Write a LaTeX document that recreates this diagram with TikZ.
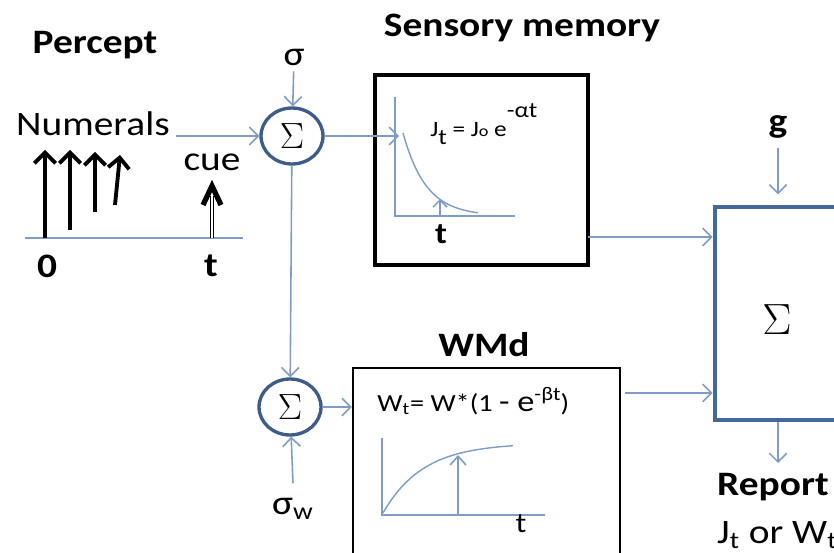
\documentclass[tikz,border=0pt]{standalone}
\usepackage{fontspec}
\setmainfont{Carlito}[FakeStretch=1.15]
\usetikzlibrary{arrows.meta, positioning, calc, shapes.geometric}

\definecolor{wireblue}{HTML}{7E9CC6}
\definecolor{ringblue}{HTML}{3D5C88}
\definecolor{frameblue}{HTML}{44689A}

\tikzset{
  wire/.style={draw=wireblue, line width=0.9pt, -{Straight Barb[length=5pt,width=10pt]}},
  axisline/.style={draw=wireblue, line width=0.8pt},
  summer/.style={ellipse, draw=ringblue, line width=1.9pt, minimum width=1.24cm, minimum height=1.12cm, inner sep=0pt, font=\fontsize{22}{24}\selectfont},
  heading/.style={font=\fontsize{19.5}{22}\selectfont\bfseries},
  bigtext/.style={font=\fontsize{19.5}{22}\selectfont},
  stim/.style={line width=2.2pt, -{Straight Barb[length=6pt,width=12pt]}}
}

\begin{document}
\begin{tikzpicture}[x=0.02cm, y=-0.02cm]
\useasboundingbox (0,0) rectangle (834,553);
\clip (0,0) rectangle (834,553);

% percept
\node[heading] (percept) at (95,45) {Percept};
\node[bigtext, anchor=west] (numerals) at (10,124) {Numerals};
\draw[axisline] (25,238) -- (243,238);
\foreach \xa/\ya/\xb/\yb in {45/238/45/150, 70/230/70/150, 95/212/95/152, 115/205/120/155}
  \draw[stim] (\xa,\ya) -- (\xb,\yb);
\node[bigtext] (cue) at (212,162) {cue};
\draw[double, double distance=1.4pt, line width=0.5pt] (212,238) -- (212,196);
\draw[line width=3pt, line join=miter] (203,205) -- (212,186) -- (221,205);
\node[heading] (zero) at (47,266) {0};
\node[heading] (tcue) at (211,266) {t};

% first sum
\node[summer] (sum1) at (292,136) {$\Sigma$};
\node[bigtext] (sigma) at (294,57) {σ};
\draw[wire] (sigma) -- (sum1);
\draw[wire] (numerals.east |- sum1) -- (sum1);

% sensory memory
\node[heading] (sensehead) at (522,28) {Sensory memory};
\node[draw, line width=2.3pt, minimum width=4.26cm, minimum height=3.8cm] (sensory) at (481.5,170) {};
\coordinate (senseIn) at (399,136);
\draw[wire] (sum1) -- (senseIn);
\draw[axisline] (395,97) -- (395,216) -- (515,216);
\draw[axisline] plot[domain=0:75, samples=40, smooth] ({403+\x},{216-83*exp(-\x/23)});
\draw[wire, -{Straight Barb[length=4pt,width=8pt]}] (440,216) -- (440,199);
\node[font=\fontsize{17}{19}\selectfont\bfseries] (tsense) at (441,234) {t};
\node[anchor=base west, inner sep=0pt, font=\fontsize{12.5}{14}\selectfont] (jform) at (430,137)
  {J\raisebox{-4pt}{t} = J{\fontsize{9}{10}\selectfont o} e\raisebox{11pt}{-αt}};

% combination
\node[draw=frameblue, line width=2.3pt, minimum width=3.9cm, minimum height=4.26cm] (combine) at (812,313.5) {};
\node[font=\fontsize{28}{30}\selectfont] (combsigma) at (777,320) {$\Sigma$};
\node[heading] (gain) at (778,127) {g};
\draw[wire, shorten <=2pt, shorten >=6pt] (gain) -- (gain |- combine.north);
\coordinate (senseOut) at (588,237);
\draw[wire] (senseOut) -- (senseOut -| combine.west);

% WMd
\node[heading] (wmhead) at (484,345) {WMd};
\node[draw, line width=1.3pt, minimum width=5.34cm, minimum height=4.64cm] (wmbox) at (486.5,484) {};
\node[summer] (sum2) at (290,407) {$\Sigma$};
\draw[wire] (sum1) -- (sum2);
\node[bigtext] (sigmaw) at (293,509) {σ\textsubscript{w}};
\draw[wire] ([yshift=5pt]sigmaw.north) -- (sum2);
\draw[wire] (sum2) -- (sum2 -| wmbox.west);
\node[anchor=base west, inner sep=0pt, font=\fontsize{14}{16}\selectfont] (wform) at (377,411)
  {W\textsubscript{t}= W*(1 {\fontsize{17}{19}\selectfont - e}\raisebox{6pt}{\fontsize{11}{12}\selectfont -βt})};
\draw[axisline] (382,438) -- (382,515) -- (545,515);
\draw[axisline] plot[domain=0:130, samples=40, smooth] ({383+\x},{513-70*(1-exp(-\x/40))});
\draw[wire, -{Straight Barb[length=5pt,width=9pt]}] (458,515) -- (458,455);
\node[font=\fontsize{16}{18}\selectfont] (twm) at (521,524) {t};
\coordinate (wmOut) at (625,393);
\draw[wire] (wmOut) -- (wmOut -| combine.west);

% report
\coordinate (reportIn) at (778,463);
\draw[wire] (reportIn |- combine.south) -- (reportIn);
\node[heading, anchor=west] (report) at (711,487) {Report};
\node[bigtext, anchor=west] (reportval) at (711,535) {J\textsubscript{t} or W\textsubscript{t}};
\end{tikzpicture}
\end{document}
